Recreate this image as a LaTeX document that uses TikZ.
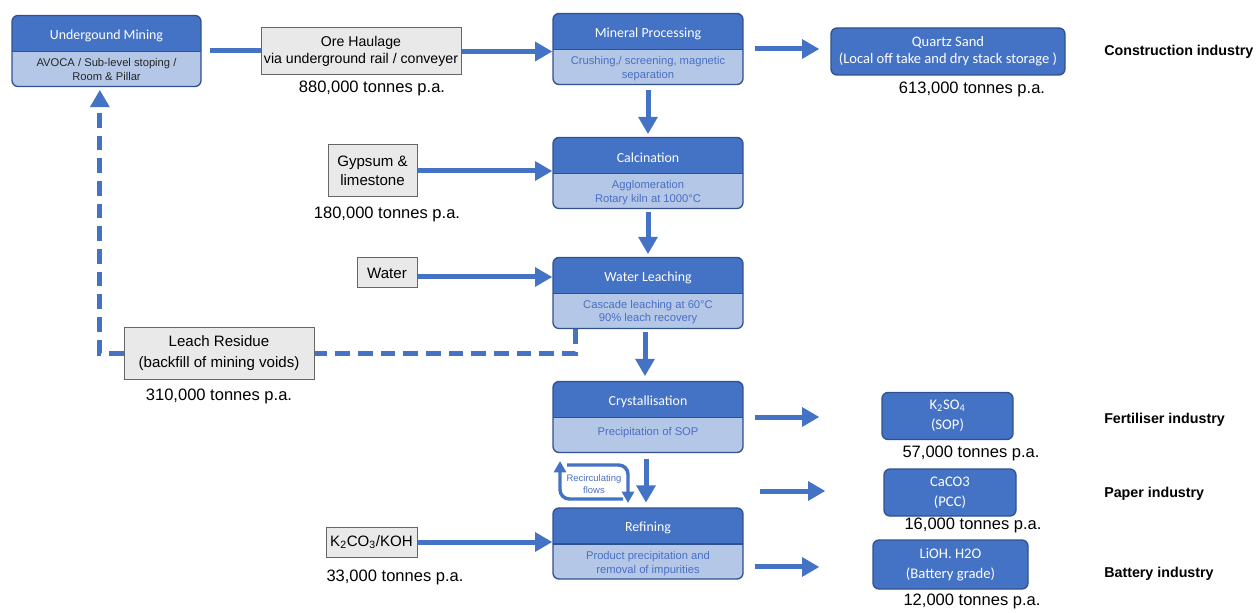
\documentclass[tikz,border=0pt]{standalone}
\usepackage{fontspec}
\setmainfont{Liberation Sans}
\newfontfamily\calibri{Carlito}
\usetikzlibrary{positioning,calc,arrows.meta}

\definecolor{hdrblue}{HTML}{4472C4}
\definecolor{bodyblue}{HTML}{B4C7E7}
\definecolor{boxedge}{HTML}{2F528F}
\definecolor{flowblue}{HTML}{4472C4}
\definecolor{bodytext}{HTML}{4A6FC4}
\definecolor{feedgray}{HTML}{E9E9E9}
\definecolor{feededge}{HTML}{666666}

\begin{document}
\begin{tikzpicture}[x=0.75pt,y=-0.75pt,
				procbox/.style={draw=boxedge,line width=1pt,fill=bodyblue,rounded corners=4.5pt,
					minimum width=142.5pt,minimum height=53.25pt,inner sep=0pt,
					path picture={\fill[hdrblue,sharp corners] (path picture bounding box.north west) rectangle ([yshift=-27pt]path picture bounding box.north east);
						\draw[boxedge,line width=1pt,sharp corners] ([yshift=-27pt]path picture bounding box.north west) -- ([yshift=-27pt]path picture bounding box.north east);}},
				proctitle/.style={text=white,font=\calibri\fontsize{10.4}{12}\selectfont,inner sep=0pt},
				procbody/.style={text=bodytext,font=\fontsize{8.4}{10.4}\selectfont,align=center,inner sep=0pt},
				prodbox/.style={draw=boxedge,line width=1pt,fill=hdrblue,rounded corners=4.5pt,text=white,
					font=\calibri\fontsize{11}{15}\selectfont,align=center,inner sep=0pt,minimum height=35.25pt},
				feedbox/.style={draw=feededge,line width=0.75pt,fill=feedgray,font=\fontsize{11.3}{14.5}\selectfont,
					align=center,inner sep=0pt},
				tonnes/.style={font=\fontsize{12.4}{14}\selectfont,inner sep=0pt},
				industry/.style={font=\bfseries\fontsize{10.7}{12}\selectfont,anchor=west,inner sep=0pt},
				flowline/.style={draw=flowblue,line width=3.75pt},
				flowarrow/.style={flowline,-{Triangle[length=13pt,width=14pt]}},
				dashflow/.style={flowline,dash pattern=on 11pt off 6pt},
				loopflow/.style={draw=flowblue,line width=2.6pt,rounded corners=7pt,-{Triangle[length=8.5pt,width=9pt]}}]
				\useasboundingbox (0,0) rectangle (1258,613);

				\node (mining)  [procbox,minimum width=141.75pt] at (106.5,51) {};
				\node (miningT) [proctitle] at ([yshift=-15.75pt]mining.north) {Undergound Mining};
				\node (miningB) [procbody,text=black!85] at ([yshift=-41pt]mining.north) {AVOCA / Sub-level stoping /\\Room \& Pillar};
				\node (mill)    [procbox] at (648,49) {};
				\node (millT)   [proctitle] at ([yshift=-15.75pt]mill.north) {Mineral Processing};
				\node (millB)   [procbody] at ([yshift=-42pt]mill.north) {Crushing,/ screening, magnetic\\separation};
				\node (calc)    [procbox] at (648,173) {};
				\node (calcT)   [proctitle] at ([yshift=-15.75pt]calc.north) {Calcination};
				\node (calcB)   [procbody] at ([yshift=-42pt]calc.north) {Agglomeration\\Rotary kiln at 1000°C};
				\node (leach)   [procbox] at (648,293) {};
				\node (leachT)  [proctitle] at ([yshift=-15.75pt]leach.north) {Water Leaching};
				\node (leachB)  [procbody] at ([yshift=-41.5pt]leach.north) {Cascade leaching at 60°C\\90\% leach recovery};
				\node (cryst)   [procbox] at (648,417) {};
				\node (crystT)  [proctitle] at ([yshift=-15.75pt]cryst.north) {Crystallisation};
				\node (crystB)  [procbody] at ([yshift=-38.5pt]cryst.north) {Precipitation of SOP};
				\node (refine)  [procbox] at (648,543.5) {};
				\node (refineT) [proctitle] at ([yshift=-15.75pt]refine.north) {Refining};
				\node (refineB) [procbody] at ([yshift=-42.5pt]refine.north) {Product precipitation and\\removal of impurities};

				\node (haul)  [feedbox,minimum width=150pt,minimum height=35.25pt,font=\fontsize{10.6}{12.75}\selectfont] at (361,51.5) {Ore Haulage\\via underground rail / conveyer};
				\node (gyp)   [feedbox,minimum width=66.75pt,minimum height=39pt] at (372.5,171) {Gypsum \&\\limestone};
				\node (water) [feedbox,minimum width=45pt,minimum height=22.5pt] at (387,273) {Water};
				\node (resid) [feedbox,minimum width=142.5pt,minimum height=38.25pt,font=\fontsize{11.3}{15.75}\selectfont] at (219,353.5) {Leach Residue\\(backfill of mining voids)};
				\node (kco)   [feedbox,minimum width=68.25pt,minimum height=22.5pt] at (371.5,542) {K\textsubscript{2}CO\textsubscript{3}/KOH};

				\node (quartz) [prodbox,minimum width=175.5pt,font=\calibri\fontsize{10.9}{12.75}\selectfont] at (948,51.5) {Quartz Sand\\(Local off take and dry stack storage )};
				\node (sop)    [prodbox,minimum width=98.25pt] at (947.5,416) {K\textsubscript{2}SO\textsubscript{4}\\(SOP)};
				\node (pcc)    [prodbox,minimum width=99pt] at (950,492.5) {CaCO3\\(PCC)};
				\node (lioh)   [prodbox,minimum width=116.25pt,minimum height=36.75pt] at (950.5,564.5) {LiOH. H2O\\(Battery grade)};

				\node (haulQ)   [tonnes] at (372,88)  {880,000 tonnes p.a.};
				\node (quartzQ) [tonnes] at (972,89)  {613,000 tonnes p.a.};
				\node (gypQ)    [tonnes] at (387,214) {180,000 tonnes p.a.};
				\node (residQ)  [tonnes] at (219,396) {310,000 tonnes p.a.};
				\node (sopQ)    [tonnes] at (971,453) {57,000 tonnes p.a.};
				\node (pccQ)    [tonnes] at (973,525) {16,000 tonnes p.a.};
				\node (liohQ)   [tonnes] at (972,601) {12,000 tonnes p.a.};
				\node (kcoQ)    [tonnes] at (395,577) {33,000 tonnes p.a.};

				\node (constr) [industry] at (1104,52)  {Construction industry};
				\node (fert)   [industry] at (1104,420) {Fertiliser industry};
				\node (paper)  [industry] at (1104,494) {Paper industry};
				\node (batt)   [industry] at (1104,574) {Battery industry};

				\node (recirc) [procbody,font=\fontsize{7.1}{9}\selectfont] at (594,484) {Recirculating\\flows};
				\draw[loopflow] (623,499) -- (560,499) -- (560,461);
				\draw[loopflow] (567,465) -- (628,465) -- (628,503);

				\draw[flowline,shorten <=6pt] (mining.east) -- (mining.east -| haul.west);
				\draw[flowarrow] (haul.east) -- (haul.east -| mill.west);
				\draw[flowarrow,shorten <=8.25pt,shorten >=8.25pt] (mill.east) -- (mill.east -| quartz.west);
				\draw[flowarrow,shorten <=4pt,shorten >=2pt] (mill.south) -- (calc.north);
				\draw[flowarrow,shorten <=2pt,shorten >=2pt] (calc.south) -- (leach.north);
				\draw[flowarrow,shorten <=2pt,shorten >=3.5pt] ([xshift=-2.25pt]leach.south) -- ([xshift=-2.25pt]cryst.north);
				\draw[flowarrow,shorten <=4pt,shorten >=3.5pt] ([xshift=-1.5pt]cryst.south) -- ([xshift=-1.5pt]refine.north);
				\draw[flowarrow] (gyp.east) -- (gyp.east -| calc.west);
				\draw[flowarrow] ([yshift=-3pt]water.east) -- ([yshift=-3pt]water.east -| leach.west);
				\draw[flowarrow] (kco.east) -- (kco.east -| refine.west);
				\draw[flowarrow,shorten <=8.25pt,shorten >=46.5pt] (cryst.east) -- (cryst.east -| sop.west);
				\coordinate (pccfrom) at (760,491);
				\draw[flowarrow,shorten >=43.5pt] (pccfrom) -- (pccfrom -| pcc.west);
				\draw[flowarrow,shorten <=8.25pt,shorten >=39.75pt] ([yshift=-17.6pt]refine.east) -- ([yshift=-17.6pt]refine.east -| lioh.west);

				\draw[dashflow] ([xshift=-54.75pt]leach.south) |- (resid.east);
				\draw[dashflow,-{Triangle[length=13pt,width=14pt]},shorten >=2pt] (resid.west) -| ([xshift=-5pt]mining.south);
			\end{tikzpicture}
\end{document}
